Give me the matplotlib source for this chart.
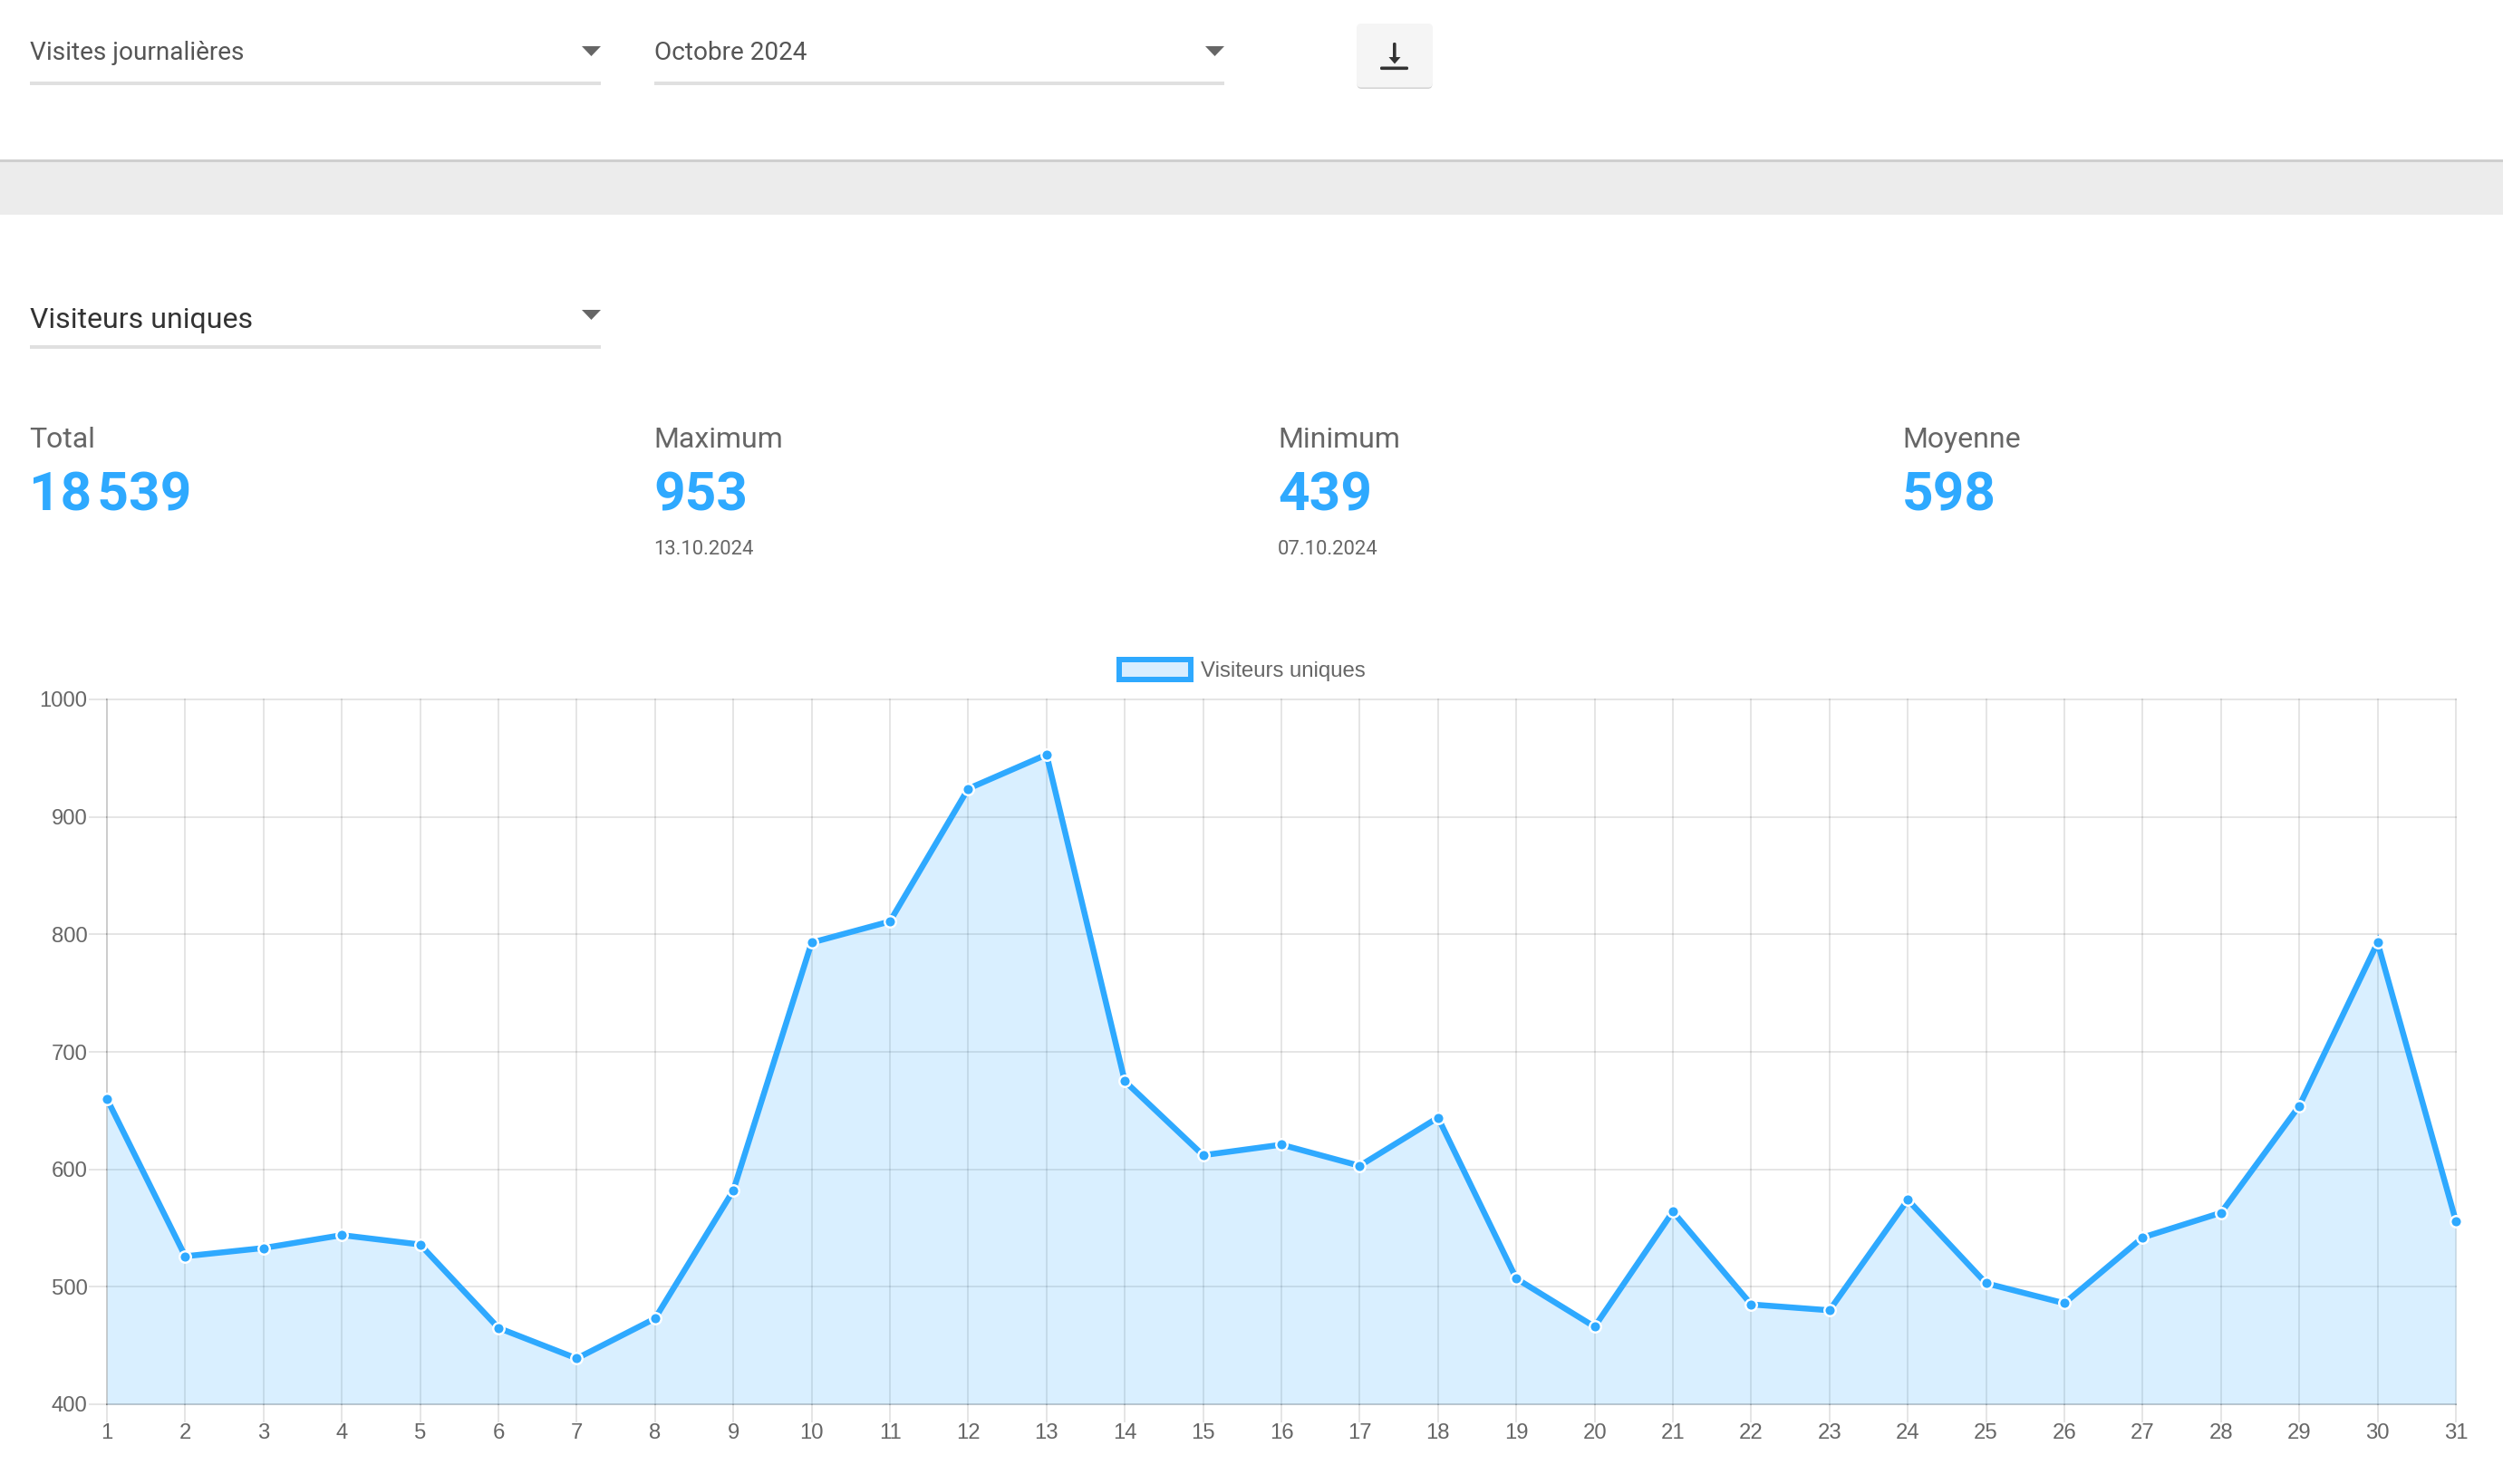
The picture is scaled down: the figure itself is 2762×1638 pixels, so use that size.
import matplotlib
matplotlib.use("Agg")
import matplotlib.pyplot as plt
from matplotlib.patches import Rectangle, Polygon, FancyBboxPatch, Patch

days = list(range(1, 32))
visitors = [660, 526, 533, 544, 536, 465, 439, 473, 582, 793, 811, 924, 953, 675, 612, 621,
            603, 644, 507, 466, 564, 485, 480, 574, 503, 486, 542, 563, 654, 793, 556]
y_ticks = [400, 500, 600, 700, 800, 900, 1000]
series_name = "Visiteurs uniques"
selects = ["Visites journalières", "Octobre 2024"]
stat_labels = ["Total", "Maximum", "Minimum", "Moyenne"]
stat_values = ["18\u200a539", "953", "439", "598"]
stat_dates = ["", "13.10.2024", "07.10.2024", ""]

W, H, DPI = 2762, 1638, 100
BLUE = "#2EA9FF"
px = 72 / DPI
plt.rcParams["font.family"] = ["Roboto", "DejaVu Sans"]

fig = plt.figure(figsize=(W / DPI, H / DPI), dpi=DPI, facecolor="white")

# page furniture in pixel coordinates
ui = fig.add_axes([0, 0, 1, 1], zorder=0)
ui.set_xlim(0, W)
ui.set_ylim(H, 0)
ui.axis("off")


def select(x0, x1, y_text, y_line, text, size, color):
    ya = y_line - 33
    ui.text(x0, y_text, text, fontsize=size, color=color, va="center", ha="left")
    ui.add_patch(Rectangle((x0, y_line), x1 - x0, 4, fc="#E0E0E0", ec="none"))
    ui.add_patch(Polygon([(x1 - 21, ya - 6), (x1, ya - 6), (x1 - 10.5, ya + 5)],
                         fc="#666666", ec="none"))


select(33, 663, 59, 90, selects[0], 20.2, "#555555")
select(722, 1351, 59, 90, selects[1], 20.2, "#555555")
select(33, 663, 353, 381, series_name, 23, "#333333")

# header band
ui.add_patch(Rectangle((0, 177), W, 60, fc="#ECECEC", ec="none"))
ui.add_patch(Rectangle((0, 176), W, 2.5, fc="#CFCFCF", ec="none"))

# download button
ui.add_patch(FancyBboxPatch((1497.5, 30), 83, 68, boxstyle="round,pad=0,rounding_size=5",
                            fc="#D2D2D2", ec="none"))
ui.add_patch(FancyBboxPatch((1497, 26), 84, 70.5, boxstyle="round,pad=0,rounding_size=5",
                            fc="#F5F5F5", ec="none"))
ui.add_patch(FancyBboxPatch((1537, 47), 3.6, 18, boxstyle="round,pad=0,rounding_size=1.5",
                            fc="#333333", ec="none"))
ui.add_patch(Polygon([(1532.5, 63), (1545.5, 63), (1539, 70.5)], fc="#333333", ec="none"))
ui.add_patch(FancyBboxPatch((1523, 73.5), 31, 3.6, boxstyle="round,pad=0,rounding_size=1.5",
                            fc="#333333", ec="none"))

# statistics
for x, lab, val, dt in zip([32.5, 721, 1410, 2099], stat_labels, stat_values, stat_dates):
    ui.text(x, 485.5, lab, fontsize=23, color="#666666", va="center", ha="left")
    ui.text(x, 548, val, fontsize=43.5, weight="bold", color=BLUE, va="center", ha="left")
    if dt:
        ui.text(x, 606.5, dt, fontsize=15.8, color="#666666", va="center", ha="left")

# chart
L, R, T, B = 118, 2710, 772, 1550
ax = fig.add_axes([L / W, 1 - B / H, (R - L) / W, (B - T) / H], zorder=1)
ax.patch.set_alpha(0)
ax.set_xlim(days[0], days[-1])
ax.set_ylim(y_ticks[0], y_ticks[-1])
ax.set_xticks(days)
ax.set_yticks(y_ticks)
ax.grid(True, color="black", alpha=0.1, linewidth=2 * px, zorder=0)
for gl in ax.get_xgridlines() + ax.get_ygridlines():
    gl.set_clip_on(False)
for side in ("top", "right"):
    ax.spines[side].set_visible(False)
for side in ("left", "bottom"):
    ax.spines[side].set_color((0, 0, 0, 0.1))
    ax.spines[side].set_linewidth(2 * px)
ax.tick_params(axis="both", color=(0, 0, 0, 0.1), width=2 * px, length=20 * px, labelcolor="#666666",
               labelsize=17.2, pad=1)
for lb in ax.get_xticklabels() + ax.get_yticklabels():
    lb.set_family("Liberation Sans")

ax.fill_between(days, visitors, y_ticks[0], color=BLUE, alpha=0.18, linewidth=0, zorder=2)
ax.plot(days, visitors, color=BLUE, linewidth=6.5 * px, zorder=3, solid_joinstyle="miter",
        marker="o", markersize=12.5 * px, markerfacecolor=BLUE, markeredgecolor="white",
        markeredgewidth=2.4 * px, clip_on=False)

handle = Patch(facecolor="#D9EEFF", edgecolor=BLUE, linewidth=6 * px)
leg = fig.legend([handle], [series_name], loc="center", bbox_to_anchor=((1231 + 1511) / 2 / W, 1 - 740 / H),
                 frameon=False, handlelength=3.3, handleheight=1.05, handletextpad=0.45,
                 prop={"family": "Liberation Sans", "size": 17.3}, labelcolor="#666666",
                 borderpad=0, borderaxespad=0)

fig.savefig("out.png", dpi=DPI, facecolor="white")
